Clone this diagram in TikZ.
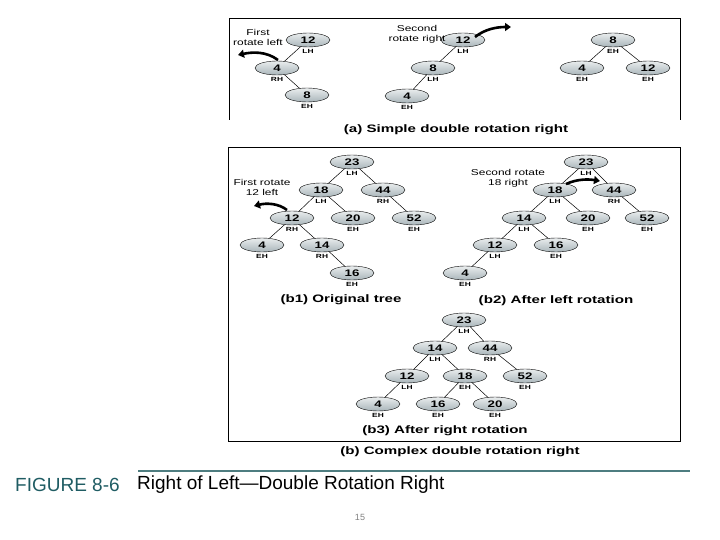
\documentclass[tikz,border=0pt]{standalone}
\usepackage{fontspec}
\setmainfont{Liberation Sans}
\newfontfamily\figfont[FakeStretch=1.4]{Liberation Sans}
\usetikzlibrary{positioning,arrows.meta,shapes.geometric}
\definecolor{avlgray}{HTML}{A9B5BA}
\definecolor{figteal}{HTML}{1F5C63}
\definecolor{ruleteal}{HTML}{4E7D80}
\tikzset{
  avl/.style={ellipse, draw, thin, top color=white!75!avlgray, bottom color=avlgray,
    minimum width=44pt, minimum height=14pt, inner sep=0pt,
    font=\figfont\fontsize{9.5}{9.5}\selectfont\bfseries},
  bal/.style={inner sep=0.5pt, font=\figfont\fontsize{6}{6}\selectfont\bfseries},
  edge/.style={draw, line width=0.5pt},
  rotarrow/.style={line width=2.6pt, -{Triangle[width=8pt,length=6pt]}},
  note/.style={align=center, inner sep=0pt, font=\figfont\fontsize{8.5}{10}\selectfont},
  subcap/.style={inner sep=0pt, font=\figfont\fontsize{10.8}{11}\selectfont\bfseries},
  frame/.style={draw, line width=0.8pt}
}

\begin{document}
\begin{tikzpicture}[x=1pt,y=-1pt]
  \useasboundingbox (0,0) rectangle (720,540);

  % (a) simple double rotation right
  \draw[frame] (229,120) |- (680,18) -- (680,120);
  \foreach \n/\x/\y/\k/\b in {
      aa12/308/40/12/LH, aa4/277/68/4/RH, aa8/307/95/8/EH,
      ab12/463/40/12/LH, ab8/433/68/8/LH, ab4/407/96/4/EH,
      ac8/613/40/8/EH, ac4/582/68/4/EH, ac12/648/68/12/EH} {
    \node[avl] (\n) at (\x,\y) {\k};
    \node[bal, below=1.5pt of \n] (\n-b) {\b};
  }
  \foreach \p/\c in {aa12/aa4, aa4/aa8, ab12/ab8, ab8/ab4, ac8/ac4, ac8/ac12}
    \draw[edge] (\p) -- (\c);

  \node[note] (firstleft) at (258,37) {First\\rotate left};
  \node[note] (secondright) at (417,34) {Second\\rotate right};
  \draw[rotarrow] (278,60) .. controls (266,51) and (252,52) .. (238,55);
  \draw[rotarrow] (475,37) .. controls (485,29) and (497,27) .. (511,27);
  \node[subcap] (capa) at (456,130) {(a) Simple double rotation right};

  % (b) complex double rotation right
  \draw[frame] (228,147) rectangle (680,441);
  \foreach \n/\x/\y/\k/\b in {
      ba23/352/162/23/LH, ba18/321/190/18/LH, ba44/383/190/44/RH,
      ba12/292/218/12/RH, ba20/353/218/20/EH, ba52/414/218/52/EH,
      ba4/262/245/4/EH, ba14/322/245/14/RH, ba16/352/273/16/EH,
      bb23/586/162/23/LH, bb18/555/190/18/LH, bb44/614/190/44/RH,
      bb14/524/218/14/LH, bb20/588/218/20/EH, bb52/647/218/52/EH,
      bb12/495/245/12/LH, bb16/556/245/16/EH, bb4/465/273/4/EH,
      bc23/464/320/23/LH, bc14/435/348/14/LH, bc44/490/348/44/RH,
      bc12/407/376/12/LH, bc18/465/376/18/EH, bc52/525/376/52/EH,
      bc4/378/404/4/EH, bc16/438/404/16/EH, bc20/495/404/20/EH} {
    \node[avl] (\n) at (\x,\y) {\k};
    \node[bal, below=1pt of \n] (\n-b) {\b};
  }
  \foreach \p/\c in {ba23/ba18, ba23/ba44, ba18/ba12, ba18/ba20, ba44/ba52,
      ba12/ba4, ba12/ba14, ba14/ba16,
      bb23/bb18, bb23/bb44, bb18/bb14, bb18/bb20, bb44/bb52,
      bb14/bb12, bb14/bb16, bb12/bb4,
      bc23/bc14, bc23/bc44, bc14/bc12, bc14/bc18, bc44/bc52,
      bc12/bc4, bc18/bc16, bc18/bc20}
    \draw[edge] (\p) -- (\c);

  \node[note] (firstb) at (262,187) {First rotate\\12 left};
  \node[note] (secondb) at (508,178) {Second rotate\\18 right};
  \draw[rotarrow] (287,210) .. controls (278,203) and (266,203) .. (254,206);
  \draw[rotarrow] (566,184) .. controls (577,179) and (588,179) .. (600,181);

  \node[subcap] (capb1) at (341,300) {(b1) Original tree};
  \node[subcap] (capb2) at (556,301) {(b2) After left rotation};
  \node[subcap] (capb3) at (445,431) {(b3) After right rotation};
  \node[subcap] (capb) at (460,452) {(b) Complex double rotation right};

  % figure caption
  \draw[ruleteal, line width=1.6pt] (138,471) -- (690,471);
  \node[anchor=west, inner sep=0pt, text=figteal, font=\fontsize{19}{19}\selectfont] (fignum) at (15,485) {FIGURE 8-6};
  \node[anchor=west, inner sep=0pt, font=\fontsize{19}{19}\selectfont] (figtitle) at (137,485) {Right of Left—Double Rotation Right};
  \node[text=gray, font=\fontsize{9}{9}\selectfont] (pageno) at (360,517) {15};
\end{tikzpicture}
\end{document}
